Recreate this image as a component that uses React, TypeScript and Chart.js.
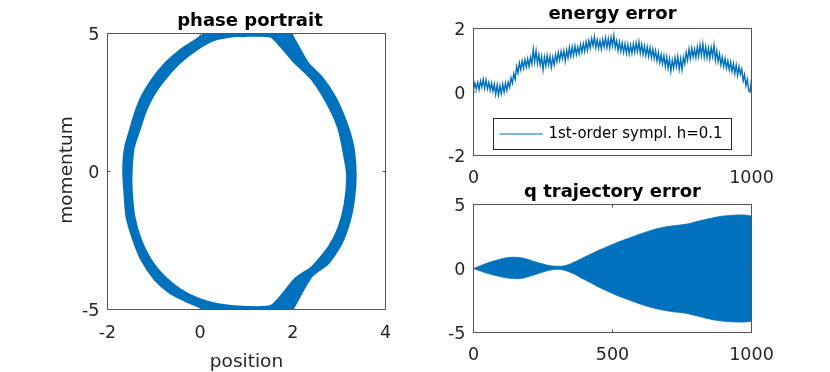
import React, { useEffect, useRef } from 'react';
import { Chart, registerables } from 'chart.js';

Chart.register(...registerables);

const W = 830;
const H = 372;
const BLUE = '#0072BD';
const TXT = '#262626';
const BOX = '#555555';
const FONT = '"DejaVu Sans", "Liberation Sans", sans-serif';

// ---------- phase portrait (band between outer and inner boundary, both traced clockwise from the top) ----------
const phaseOuterX = [1.0, 1.5, 1.85, 1.963, 2.338, 2.626, 2.916, 3.167, 3.312, 3.361, 3.333, 3.240, 3.058, 2.771, 2.409, 2.013, 1.95, 1.5, 1.0, 0.5, 0.1, -0.006, -0.297, -0.656, -0.981, -1.271, -1.450, -1.595, -1.645, -1.667, -1.63, -1.522, -1.413, -1.271, -1.054, -0.764, -0.439, -0.115, 0.10, 0.5, 1.0];
const phaseOuterP = [5.28, 5.25, 5.12, 5.0, 3.92, 3.43, 2.71, 1.75, 0.90, -0.07, -0.91, -1.76, -2.61, -3.33, -3.81, -4.96, -5.12, -5.25, -5.3, -5.2, -5.02, -4.92, -4.72, -4.41, -3.93, -3.21, -2.48, -1.64, -0.67, 0.05, 0.85, 1.50, 2.11, 2.71, 3.32, 3.92, 4.40, 4.76, 5.0, 5.18, 5.28];
const phaseInnerX = [1.0, 1.30, 1.543, 2.013, 2.409, 2.771, 2.987, 3.132, 3.167, 3.117, 2.987, 2.771, 2.409, 2.050, 1.543, 1.039, 0.390, -0.043, -0.405, -0.764, -1.054, -1.271, -1.413, -1.472, -1.472, -1.43, -1.305, -1.184, -1.017, -0.764, -0.439, -0.080, 0.318, 0.75, 1.0];
const phaseInnerP = [4.91, 4.91, 4.86, 3.98, 3.32, 2.35, 1.50, 0.30, -0.19, -1.15, -2.0, -2.72, -3.45, -3.87, -4.84, -4.90, -4.80, -4.59, -4.29, -3.81, -3.21, -2.48, -1.64, -0.67, 0.05, 0.85, 1.50, 2.11, 2.71, 3.32, 3.92, 4.40, 4.76, 4.90, 4.91];

// ---------- energy error (sampled every 5 time units, 0..1000) ----------
const energyLabel = '1st-order sympl. h=0.1';
const energyErr = [
  0.05, 0.28, 0.10, 0.30, 0.08, 0.35, 0.15, 0.40, 0.12, 0.38,
  0.10, 0.30, 0.05, 0.28, 0.02, 0.25, -0.08, 0.22, -0.10, 0.20,
  -0.05, 0.25, 0.00, 0.28, 0.05, 0.32, 0.15, 0.45, 0.28, 0.58,
  0.40, 0.80, 0.60, 0.92, 0.70, 0.98, 0.75, 1.02, 0.78, 1.05,
  0.80, 1.10, 0.88, 1.35, 0.95, 1.30, 0.90, 1.18, 0.85, 1.12,
  0.70, 1.10, 0.82, 1.15, 0.85, 1.12, 0.78, 1.10, 0.85, 1.18,
  0.95, 1.25, 1.00, 1.28, 1.05, 1.30, 0.98, 1.32, 1.08, 1.40,
  1.12, 1.42, 1.15, 1.45, 1.18, 1.42, 1.20, 1.50, 1.25, 1.52,
  1.28, 1.58, 1.32, 1.62, 1.38, 1.68, 1.45, 1.74, 1.40, 1.65,
  1.38, 1.62, 1.35, 1.66, 1.42, 1.70, 1.40, 1.68, 1.38, 1.72,
  1.45, 1.78, 1.40, 1.62, 1.30, 1.58, 1.28, 1.55, 1.25, 1.52,
  1.22, 1.50, 1.20, 1.48, 1.22, 1.52, 1.25, 1.55, 1.28, 1.58,
  1.22, 1.50, 1.18, 1.45, 1.15, 1.42, 1.12, 1.40, 1.08, 1.35,
  1.05, 1.30, 0.98, 1.25, 0.92, 1.18, 0.88, 1.15, 0.80, 1.10,
  0.75, 1.05, 0.65, 1.00, 0.75, 1.08, 0.80, 1.12, 0.72, 1.05,
  0.70, 1.10, 0.88, 1.25, 1.00, 1.35, 1.05, 1.38, 1.10, 1.35,
  1.08, 1.42, 1.12, 1.48, 1.15, 1.52, 1.10, 1.42, 1.08, 1.38,
  1.05, 1.40, 1.12, 1.48, 1.00, 1.30, 0.95, 1.20, 0.85, 1.10,
  0.80, 1.05, 0.75, 0.98, 0.70, 0.95, 0.65, 0.90, 0.58, 0.85,
  0.52, 0.80, 0.55, 0.72, 0.35, 0.55, 0.20, 0.40, 0.05, 0.02,
  0.42,
];
const energyStep = 5;

// ---------- q trajectory error envelope ----------
const qTime = [0, 25, 50, 75, 100, 125, 150, 175, 200, 225, 250, 275, 300, 325, 350, 375, 400, 425, 450, 475, 500, 525, 550, 575, 600, 625, 650, 675, 700, 725, 750, 775, 800, 825, 850, 875, 900, 925, 950, 975, 1000];
const qUpper = [0.0, 0.22, 0.42, 0.60, 0.75, 0.85, 0.88, 0.82, 0.68, 0.50, 0.35, 0.22, 0.18, 0.20, 0.38, 0.62, 0.90, 1.15, 1.42, 1.65, 1.88, 2.10, 2.30, 2.50, 2.70, 2.88, 3.05, 3.18, 3.28, 3.35, 3.42, 3.50, 3.65, 3.78, 3.90, 4.02, 4.10, 4.15, 4.18, 4.18, 4.10];
const qLower = [0.0, -0.20, -0.38, -0.52, -0.65, -0.75, -0.80, -0.76, -0.62, -0.45, -0.28, -0.12, -0.06, -0.12, -0.32, -0.58, -0.88, -1.15, -1.45, -1.70, -1.95, -2.18, -2.38, -2.58, -2.78, -2.95, -3.10, -3.22, -3.32, -3.40, -3.45, -3.55, -3.68, -3.82, -3.95, -4.05, -4.12, -4.16, -4.18, -4.18, -4.12];

// ---------- tick labels ----------
const phaseXTicks = [-2, 0, 2, 4];
const phaseYTicks = [-5, 0, 5];
const energyXTicks = [0, 1000];
const energyYTicks = [-2, 0, 2];
const qXTicks = [0, 500, 1000];
const qYTicks = [-5, 0, 5];

type Area = { left: number; right: number; top: number; bottom: number };

const matlabAxes = {
  id: 'matlabAxes',
  afterDatasetsDraw(chart: any, _args: any, opts: any) {
    const { ctx, chartArea: a } = chart;
    const xs = chart.scales.x;
    const ys = chart.scales.y;
    ctx.save();
    ctx.strokeStyle = BOX;
    ctx.lineWidth = 1;
    ctx.beginPath();
    ctx.rect(a.left, a.top, a.right - a.left, a.bottom - a.top);
    const tl = 3;
    for (const t of xs.ticks) {
      const px = xs.getPixelForValue(t.value);
      ctx.moveTo(px, a.bottom);
      ctx.lineTo(px, a.bottom - tl);
      ctx.moveTo(px, a.top);
      ctx.lineTo(px, a.top + tl);
    }
    for (const t of ys.ticks) {
      const py = ys.getPixelForValue(t.value);
      ctx.moveTo(a.left, py);
      ctx.lineTo(a.left + tl, py);
      ctx.moveTo(a.right, py);
      ctx.lineTo(a.right - tl, py);
    }
    ctx.stroke();

    ctx.fillStyle = '#000';
    ctx.textBaseline = 'alphabetic';
    ctx.textAlign = 'center';
    ctx.font = `bold 18px ${FONT}`;
    ctx.fillText(opts.title, opts.titleX, opts.titleY);

    ctx.fillStyle = TXT;
    ctx.font = `18.5px ${FONT}`;
    if (opts.xLabel) {
      ctx.fillText(opts.xLabel, opts.xLabelX, opts.xLabelY);
    }
    if (opts.yLabel) {
      ctx.save();
      ctx.translate(opts.yLabelX, opts.yLabelY);
      ctx.rotate(-Math.PI / 2);
      ctx.fillText(opts.yLabel, 0, 0);
      ctx.restore();
    }

    if (opts.legend) {
      const L = opts.legend;
      const ds = chart.data.datasets[0];
      ctx.fillStyle = '#ffffff';
      ctx.fillRect(L.x, L.y, L.w, L.h);
      ctx.strokeStyle = TXT;
      ctx.lineWidth = 1;
      ctx.strokeRect(L.x, L.y, L.w, L.h);
      const cy = L.y + L.h / 2;
      ctx.strokeStyle = ds.borderColor;
      ctx.lineWidth = 1.2;
      ctx.beginPath();
      ctx.moveTo(L.x + 6, cy);
      ctx.lineTo(L.x + 49, cy);
      ctx.stroke();
      ctx.fillStyle = '#000';
      ctx.textAlign = 'left';
      ctx.textBaseline = 'middle';
      ctx.font = `15px ${FONT}`;
      ctx.fillText(ds.label, L.x + 55, cy);
    }
    ctx.restore();
  },
};

function makeScales(area: Area, xMin: number, xMax: number, xTicks: number[], yMin: number, yMax: number, yTicks: number[], xPad: number) {
  const font = { family: FONT, size: 17.5 };
  return {
    x: {
      type: 'linear',
      min: xMin,
      max: xMax,
      afterBuildTicks: (s: any) => {
        s.ticks = xTicks.map((v) => ({ value: v }));
      },
      afterFit: (s: any) => {
        s.height = H - area.bottom;
      },
      ticks: { padding: xPad, color: TXT, font, maxRotation: 0, autoSkip: false, callback: (v: any) => String(v) },
      grid: { display: false, drawTicks: false },
      border: { display: false },
    },
    y: {
      type: 'linear',
      min: yMin,
      max: yMax,
      afterBuildTicks: (s: any) => {
        s.ticks = yTicks.map((v) => ({ value: v }));
      },
      afterFit: (s: any) => {
        s.width = area.left;
      },
      ticks: { padding: 8, labelOffset: 2, color: TXT, font, autoSkip: false, callback: (v: any) => String(v) },
      grid: { display: false, drawTicks: false },
      border: { display: false },
    },
  };
}

function baseOptions(area: Area, scales: any, axesOpts: any) {
  return {
    responsive: false,
    maintainAspectRatio: false,
    animation: false,
    events: [],
    layout: { padding: { top: area.top, right: W - area.right, left: 0, bottom: 0 } },
    plugins: {
      legend: { display: false },
      tooltip: { enabled: false },
      title: { display: false },
      matlabAxes: axesOpts,
    },
    scales,
  };
}

function phaseConfig(): any {
  const area = { left: 107.5, right: 385.5, top: 33.5, bottom: 309.5 };
  // outer loop clockwise, inner loop traversed the other way so the
  // nonzero fill rule leaves the inside of the band empty; the join
  // between the loops sits at the top, above the visible axes range
  const pts: { x: number; y: number }[] = [];
  phaseOuterX.forEach((x, i) => pts.push({ x, y: phaseOuterP[i] }));
  for (let i = phaseInnerX.length - 1; i >= 0; i--) {
    pts.push({ x: phaseInnerX[i], y: phaseInnerP[i] });
  }
  return {
    type: 'line',
    data: {
      datasets: [
        {
          label: 'phase',
          data: pts,
          showLine: true,
          fill: 'shape',
          backgroundColor: BLUE,
          borderColor: BLUE,
          borderWidth: 1.5,
          pointRadius: 0,
          tension: 0.22,
          clip: 0,
        },
      ],
    },
    options: baseOptions(area, makeScales(area, -2, 4, phaseXTicks, -5, 5, phaseYTicks, 13.5), {
      title: 'phase portrait',
      titleX: 250,
      titleY: 26,
      xLabel: 'position',
      xLabelX: 246.5,
      xLabelY: 367,
      yLabel: 'momentum',
      yLabelX: 72,
      yLabelY: 170,
    }),
    plugins: [matlabAxes],
  };
}

function energyConfig(): any {
  const area = { left: 473.5, right: 751.5, top: 28.5, bottom: 155.5 };
  const pts = energyErr.map((v, i) => ({ x: i * energyStep, y: v }));
  return {
    type: 'line',
    data: {
      datasets: [
        {
          label: energyLabel,
          data: pts,
          borderColor: BLUE,
          backgroundColor: BLUE,
          borderWidth: 1.4,
          pointRadius: 0,
          fill: false,
          tension: 0,
        },
      ],
    },
    options: baseOptions(area, makeScales(area, 0, 1000, energyXTicks, -2, 2, energyYTicks, 12), {
      title: 'energy error',
      titleX: 612.5,
      titleY: 19,
      legend: { x: 493.5, y: 118.5, w: 238, h: 31 },
    }),
    plugins: [matlabAxes],
  };
}

function qConfig(): any {
  const area = { left: 473.5, right: 751.5, top: 204.5, bottom: 332.5 };
  return {
    type: 'line',
    data: {
      datasets: [
        {
          label: 'upper',
          data: qTime.map((t, i) => ({ x: t, y: qUpper[i] })),
          borderColor: BLUE,
          backgroundColor: BLUE,
          borderWidth: 0.8,
          pointRadius: 0,
          fill: '+1',
          tension: 0.3,
        },
        {
          label: 'lower',
          data: qTime.map((t, i) => ({ x: t, y: qLower[i] })),
          borderColor: BLUE,
          backgroundColor: BLUE,
          borderWidth: 0.8,
          pointRadius: 0,
          fill: false,
          tension: 0.3,
        },
      ],
    },
    options: baseOptions(area, makeScales(area, 0, 1000, qXTicks, -5, 5, qYTicks, 12), {
      title: 'q trajectory error',
      titleX: 612.5,
      titleY: 196.5,
    }),
    plugins: [matlabAxes],
  };
}

function ChartCanvas({ make }: { make: () => any }) {
  const ref = useRef<HTMLCanvasElement>(null);
  useEffect(() => {
    const chart = new Chart(ref.current as HTMLCanvasElement, make());
    return () => chart.destroy();
  }, []);
  return (
    <canvas
      ref={ref}
      width={W}
      height={H}
      style={{ position: 'absolute', left: 0, top: 0, width: W, height: H }}
    />
  );
}

export default function App() {
  return (
    <div style={{ position: 'absolute', left: 0, top: 0, width: W, height: H, background: '#ffffff', overflow: 'hidden' }}>
      <ChartCanvas make={phaseConfig} />
      <ChartCanvas make={energyConfig} />
      <ChartCanvas make={qConfig} />
    </div>
  );
}
